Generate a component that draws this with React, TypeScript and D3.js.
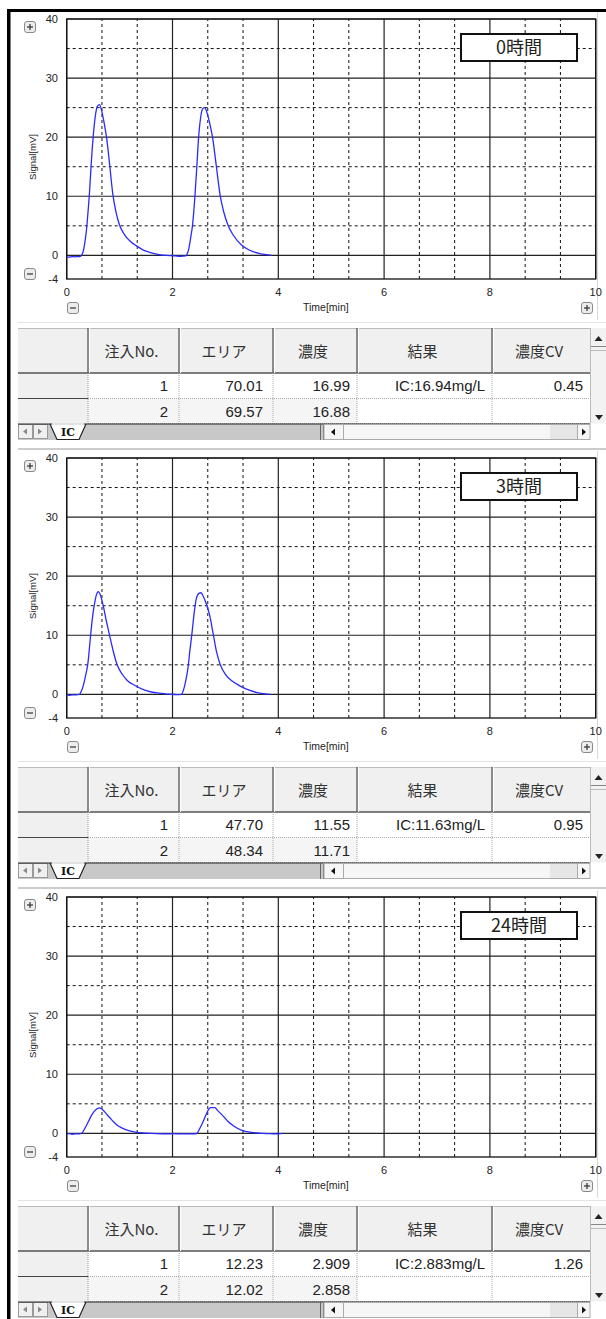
import React from "react";
import * as d3 from "d3";

// ---------- data ----------
const PANEL_TITLES = ["0時間", "3時間", "24時間"];

const X_TICKS = [0, 2, 4, 6, 8, 10];
const Y_TICKS = [40, 30, 20, 10, 0, -4];

// chromatogram traces: [time (min), signal (mV)]
const TRACE_0H: [number, number][] = [
  [0, -0.25], [0.05, -0.3], [0.1, -0.2], [0.15, -0.25], [0.2, -0.2], [0.25, -0.2], [0.28, 0],
  [0.31, 0.6], [0.34, 2], [0.37, 4], [0.4, 7], [0.43, 10.5], [0.46, 15], [0.5, 20],
  [0.54, 23.5], [0.58, 25.2], [0.62, 25.5], [0.66, 24.5], [0.7, 22.8], [0.76, 19.5],
  [0.81, 15.5], [0.87, 10.5], [0.93, 7.4], [1.0, 5.1], [1.1, 3.4], [1.2, 2.4], [1.32, 1.6],
  [1.45, 0.9], [1.57, 0.5], [1.7, 0.2], [1.82, 0.05], [1.95, -0.05], [2.05, -0.1], [2.15, -0.15],
  [2.25, -0.1], [2.28, 0.3], [2.31, 1.2], [2.34, 2.8], [2.38, 5.2], [2.42, 9.5], [2.46, 15],
  [2.49, 19.5], [2.53, 23.2], [2.57, 24.8], [2.61, 25], [2.65, 24.2], [2.7, 22.5], [2.76, 19.8],
  [2.83, 15], [2.9, 10.2], [2.97, 7.3], [3.05, 5.1], [3.15, 3.4], [3.31, 1.7], [3.45, 0.9],
  [3.65, 0.3], [3.8, 0.1], [3.87, 0],
];

const TRACE_3H: [number, number][] = [
  [0, -0.1], [0.05, -0.15], [0.1, -0.1], [0.15, -0.1], [0.2, -0.05], [0.24, 0], [0.28, 0.6],
  [0.32, 1.7], [0.36, 3.3], [0.4, 5.2], [0.45, 9.8], [0.49, 13.2], [0.52, 15], [0.56, 16.8],
  [0.6, 17.4], [0.63, 17], [0.69, 15], [0.75, 12.4], [0.81, 10], [0.88, 7.3], [0.95, 5.1],
  [1.05, 3.4], [1.15, 2.3], [1.29, 1.5], [1.45, 0.8], [1.6, 0.4], [1.75, 0.2], [1.9, 0.05],
  [2.0, 0], [2.1, -0.05], [2.17, 0], [2.21, 0.8], [2.25, 2.3], [2.29, 4.3], [2.33, 7.5],
  [2.37, 10.5], [2.41, 13.8], [2.45, 16.2], [2.5, 17.1], [2.54, 17.2], [2.58, 16.6],
  [2.64, 15.3], [2.7, 13.5], [2.77, 10.2], [2.83, 7.3], [2.9, 5.1], [3.0, 3.4], [3.12, 2.3],
  [3.28, 1.4], [3.45, 0.7], [3.6, 0.3], [3.75, 0.1], [3.85, 0],
];

const TRACE_24H: [number, number][] = [
  [0, -0.1], [0.05, -0.05], [0.1, -0.15], [0.15, -0.1], [0.2, -0.1], [0.28, 0], [0.34, 0.8],
  [0.41, 2], [0.48, 3.2], [0.55, 4.0], [0.62, 4.3], [0.68, 4.0], [0.75, 3.3], [0.82, 2.6],
  [0.88, 2.0], [0.95, 1.4], [1.05, 0.9], [1.16, 0.5], [1.3, 0.2], [1.5, 0.05], [1.7, -0.05],
  [1.9, -0.1], [2.0, -0.05], [2.2, -0.1], [2.4, -0.1], [2.46, 0], [2.52, 0.9], [2.58, 2.0],
  [2.65, 3.5], [2.72, 4.35], [2.8, 4.35], [2.86, 3.8], [2.95, 3.0], [3.05, 2.0], [3.15, 1.3],
  [3.31, 0.5], [3.5, 0.15], [3.7, 0], [3.85, -0.05], [3.95, -0.1], [4.08, 0],
];

const TRACES = [TRACE_0H, TRACE_3H, TRACE_24H];

const TABLE_HEADERS = ["注入No.", "エリア", "濃度", "結果", "濃度CV"];
const ROWS_0H = [
  ["1", "70.01", "16.99", "IC:16.94mg/L", "0.45"],
  ["2", "69.57", "16.88", "", ""],
];
const ROWS_3H = [
  ["1", "47.70", "11.55", "IC:11.63mg/L", "0.95"],
  ["2", "48.34", "11.71", "", ""],
];
const ROWS_24H = [
  ["1", "12.23", "2.909", "IC:2.883mg/L", "1.26"],
  ["2", "12.02", "2.858", "", ""],
];
const TABLE_ROWS = [ROWS_0H, ROWS_3H, ROWS_24H];

// ---------- layout ----------
const W = 606;
const H = 1319;
const PANEL_STEP = 439;
const PLOT = { left: 66.7, right: 595.7, top: 19, bottom: 279 };
const COLS = [18, 88, 179, 273, 357, 492, 590];
const TEXT_RIGHT = [168, 263, 350, 485, 583];
const JP = "'Noto Sans CJK JP', 'Noto Sans', sans-serif";
const SANS = "'Liberation Sans', Arial, sans-serif";

const Btn = ({ x, y, plus }: { x: number; y: number; plus: boolean }) => (
  <g>
    <rect x={x + 0.5} y={y + 0.5} width={11} height={11} rx={2.5} fill="#ececec" stroke="#8a8a8a" />
    <line x1={x + 3} x2={x + 9} y1={y + 6} y2={y + 6} stroke="#333" strokeWidth={1.2} />
    {plus && <line x1={x + 6} x2={x + 6} y1={y + 3} y2={y + 9} stroke="#333" strokeWidth={1.2} />}
  </g>
);

function Panel({ idx }: { idx: number }) {
  const o = idx * PANEL_STEP;
  const x = d3.scaleLinear().domain([0, 10]).range([PLOT.left, PLOT.right]);
  const y = d3.scaleLinear().domain([-4, 40]).range([PLOT.bottom + o, PLOT.top + o]);
  const majorX = d3.range(0, 10.001, 2);
  const minorX = d3.range(0, 10.001, 2 / 3).filter((v) => Math.abs(v / 2 - Math.round(v / 2)) > 0.01);
  const majorY = d3.range(0, 40.001, 10);
  const minorY = d3.range(5, 40, 10);
  const line = d3
    .line<[number, number]>()
    .x((d) => x(d[0]))
    .y((d) => y(d[1]))
    .curve(d3.curveMonotoneX);

  const tTop = 328 + o;
  const hBot = 373 + o;
  const r1 = 398.5 + o;
  const r2 = 423.5 + o;
  const rowsData = TABLE_ROWS[idx];

  return (
    <g>
      {idx > 0 && <line x1={18} x2={W} y1={10 + o} y2={10 + o} stroke="#999" />}
      <line x1={597.5} x2={597.5} y1={12 + o} y2={320 + o} stroke="#d8d8d8" />
      {/* grid */}
      {minorX.map((v) => (
        <line key={"mx" + v} x1={x(v)} x2={x(v)} y1={y(-4)} y2={y(40)} stroke="#111" strokeDasharray="3,3" />
      ))}
      {minorY.map((v) => (
        <line key={"my" + v} x1={PLOT.left} x2={PLOT.right} y1={y(v)} y2={y(v)} stroke="#111" strokeDasharray="3,3" />
      ))}
      {majorX.map((v) => (
        <line key={"Mx" + v} x1={x(v)} x2={x(v)} y1={y(-4)} y2={y(40)} stroke="#222" strokeWidth={1.2} />
      ))}
      {majorY.map((v) => (
        <line key={"My" + v} x1={PLOT.left} x2={PLOT.right} y1={y(v)} y2={y(v)} stroke="#222" strokeWidth={1.2} />
      ))}
      <rect x={PLOT.left} y={y(40)} width={PLOT.right - PLOT.left} height={y(-4) - y(40)} fill="none" stroke="#111" strokeWidth={1.3} />
      {/* trace */}
      <path d={line(TRACES[idx]) || ""} fill="none" stroke="#2a2aff" strokeWidth={1.3} />
      {/* ticks */}
      {Y_TICKS.map((v) => (
        <text key={"yt" + v} x={58} y={y(v)} dy="0.35em" textAnchor="end" fontFamily={SANS} fontSize={11} fill="#222">
          {v}
        </text>
      ))}
      {X_TICKS.map((v) => (
        <text key={"xt" + v} x={x(v)} y={296 + o} textAnchor="middle" fontFamily={SANS} fontSize={11} fill="#222">
          {v}
        </text>
      ))}
      <text transform={`translate(36,${157 + o}) rotate(-90)`} textAnchor="middle" fontFamily={SANS} fontSize={9.5} fill="#222">
        Signal[mV]
      </text>
      <text x={303} y={311 + o} fontFamily={SANS} fontSize={10.5} fill="#222">
        Time[min]
      </text>
      <Btn x={24} y={21 + o} plus={true} />
      <Btn x={24} y={268 + o} plus={false} />
      <Btn x={67} y={302 + o} plus={false} />
      <Btn x={581} y={302 + o} plus={true} />
      {/* title */}
      <rect x={461} y={34 + o} width={116} height={27} fill="#fff" stroke="#111" strokeWidth={2} />
      <text x={519} y={48 + o} dy="0.36em" textAnchor="middle" fontFamily={JP} fontSize={18} fill="#222">
        {PANEL_TITLES[idx]}
      </text>

      {/* table */}
      <line x1={18} x2={W} y1={322.5 + o} y2={322.5 + o} stroke="#e4e4e4" />
      <rect x={COLS[0]} y={tTop} width={COLS[6] - COLS[0]} height={hBot - tTop} fill="#f0f0f0" />
      <rect x={COLS[0]} y={hBot} width={COLS[1] - COLS[0]} height={r2 - hBot} fill="#f0f0f0" />
      <rect x={COLS[1]} y={hBot} width={COLS[6] - COLS[1]} height={r1 - hBot} fill="#fff" />
      <rect x={COLS[1]} y={r1} width={COLS[4] - COLS[1]} height={r2 - r1} fill="#f5f5f5" />
      <rect x={COLS[4]} y={r1} width={COLS[6] - COLS[4]} height={r2 - r1} fill="#fff" />
      <line x1={COLS[0]} x2={COLS[6]} y1={tTop + 0.5} y2={tTop + 0.5} stroke="#bbb" />
      <line x1={COLS[0]} x2={COLS[6]} y1={hBot} y2={hBot} stroke="#555" strokeWidth={1.3} />
      {COLS.slice(1, 6).map((c) => (
        <g key={"hc" + c}>
          <line x1={c} x2={c} y1={tTop} y2={hBot} stroke="#555" strokeWidth={1.3} />
          <line x1={c + 1.5} x2={c + 1.5} y1={tTop} y2={hBot} stroke="#fff" />
        </g>
      ))}
      <line x1={COLS[1]} x2={COLS[1]} y1={hBot} y2={r2} stroke="#999" strokeDasharray="1,1" />
      {COLS.slice(2, 6).map((c) => (
        <line key={"dc" + c} x1={c} x2={c} y1={hBot} y2={r2} stroke="#aaa" strokeDasharray="1,1" />
      ))}
      <line x1={COLS[0]} x2={COLS[1]} y1={r1} y2={r1} stroke="#444" strokeWidth={1.2} />
      <line x1={COLS[1]} x2={COLS[6]} y1={r1} y2={r1} stroke="#aaa" strokeDasharray="1,1" />
      <line x1={COLS[1]} x2={COLS[6]} y1={r2} y2={r2} stroke="#aaa" strokeDasharray="1,1" />
      {TABLE_HEADERS.map((h, i) => (
        <text key={"h" + i} x={(COLS[i + 1] + COLS[i + 2]) / 2 - 2} y={351.5 + o} dy="0.36em" textAnchor="middle" fontFamily={JP} fontSize={15} fill="#333">
          {h}
        </text>
      ))}
      {rowsData.map((row, ri) =>
        row.map((cell, ci) => (
          <text key={`c${ri}-${ci}`} x={TEXT_RIGHT[ci]} y={(ri === 0 ? 386 : 411.5) + o} dy="0.36em" textAnchor="end" fontFamily={SANS} fontSize={15} fill="#222">
            {cell}
          </text>
        ))
      )}
      {/* vertical scrollbar */}
      <rect x={590} y={tTop} width={16} height={r2 - tTop} fill="#f2f2f2" />
      <line x1={590.5} x2={590.5} y1={tTop} y2={r2} stroke="#bbb" />
      <path d={`M594.5,${341 + o} L598.5,${336 + o} L602.5,${341 + o} Z`} fill="#222" />
      <line x1={591} x2={606} y1={346.5 + o} y2={346.5 + o} stroke="#888" />
      <line x1={591} x2={606} y1={350.5 + o} y2={350.5 + o} stroke="#bbb" />
      <path d={`M595,${415 + o} L599,${420 + o} L603,${415 + o} Z`} fill="#222" />
      {/* tab bar */}
      <rect x={18} y={424 + o} width={572} height={16} fill="#c8c8c8" />
      <rect x={18.5} y={424.5 + o} width={14} height={14} fill="#f0f0f0" stroke="#999" />
      <rect x={33.5} y={424.5 + o} width={14} height={14} fill="#f0f0f0" stroke="#999" />
      <path d={`M23,${431.5 + o} L27,${428.5 + o} L27,${434.5 + o} Z`} fill="#888" />
      <path d={`M42,${431.5 + o} L38,${428.5 + o} L38,${434.5 + o} Z`} fill="#888" />
      <path d={`M50,${424 + o} L57,${439.5 + o} L79,${439.5 + o} L86,${424 + o}`} fill="#fff" stroke="#222" strokeWidth={1.2} />
      <line x1={18} x2={590} y1={424 + o} y2={424 + o} stroke="#222" />
      <line x1={52} x2={84} y1={424 + o} y2={424 + o} stroke="#fff" strokeWidth={1.5} />
      <text x={68} y={432.5 + o} dy="0.36em" textAnchor="middle" fontFamily="'DejaVu Serif', serif" fontWeight="bold" fontSize={11} fill="#111">
        IC
      </text>
      <line x1={320.5} x2={320.5} y1={424 + o} y2={440 + o} stroke="#666" />
      <line x1={323.5} x2={323.5} y1={424 + o} y2={440 + o} stroke="#666" />
      <rect x={324} y={424.5 + o} width={266} height={15} fill="#f6f6f6" stroke="#aaa" />
      <rect x={550} y={425 + o} width={28} height={14} fill="#e6e6e6" />
      <line x1={343.5} x2={343.5} y1={425 + o} y2={439 + o} stroke="#aaa" />
      <line x1={577.5} x2={577.5} y1={425 + o} y2={439 + o} stroke="#aaa" />
      <path d={`M331,${432 + o} L335,${428.5 + o} L335,${435.5 + o} Z`} fill="#111" />
      <path d={`M586,${432 + o} L582,${428.5 + o} L582,${435.5 + o} Z`} fill="#111" />
    </g>
  );
}

export default function App() {
  return (
    <svg
      width={W}
      height={H}
      viewBox={`0 0 ${W} ${H}`}
      style={{ position: "absolute", left: 0, top: 0, background: "#fff" }}
    >
      <rect x={0} y={0} width={W} height={H} fill="#fff" />
      {[0, 1, 2].map((i) => (
        <Panel key={i} idx={i} />
      ))}
      <rect x={7} y={9} width={3.5} height={H - 9} fill="#000" />
      <rect x={7} y={9} width={W - 7} height={3} fill="#000" />
    </svg>
  );
}
